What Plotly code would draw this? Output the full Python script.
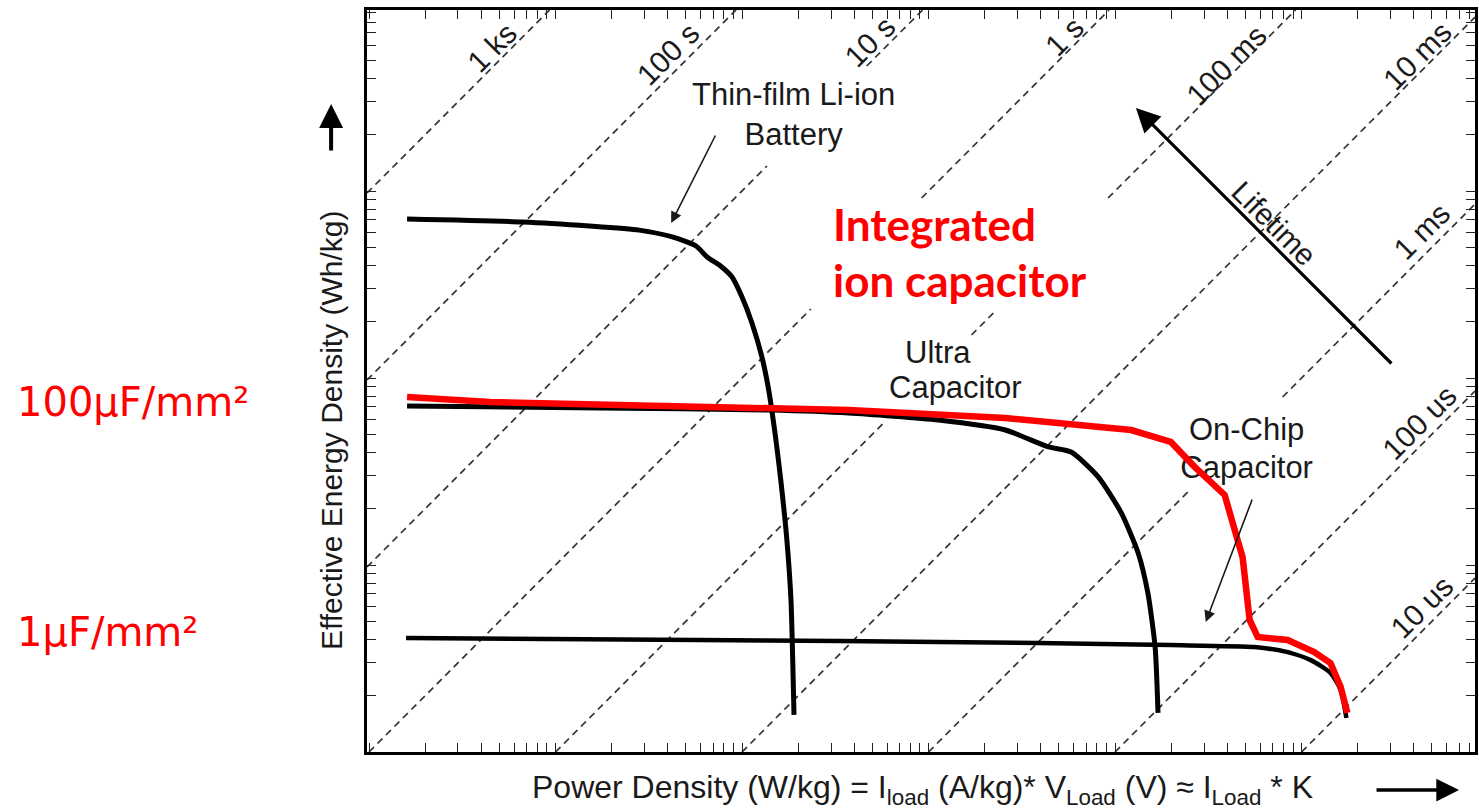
import math
import plotly.graph_objects as go

# ---- Ragone curves: power density (W/kg) vs effective energy density ----
battery_p = [1.60, 6.66, 15.2, 28.1, 42.3, 56.7, 65.0, 77.0, 88.4, 100, 113, 128, 139, 152, 162, 174, 183, 187, 190]
battery_e = [708, 683, 650, 618, 568, 508, 444, 396, 347, 271, 197, 129, 86.3, 46.6, 27.5, 13.6, 6.50, 3.10, 1.58]

ultra_p = [1.60, 17.2, 139, 373, 1130, 2580, 4390, 5820, 8120, 10800, 13300, 15000, 16400, 17000]
ultra_e = [70.8, 69.2, 67.4, 65.0, 59.6, 52.7, 42.8, 40.2, 29.6, 19.0, 11.6, 7.08, 3.64, 1.62]

onchip_p = [1.58, 58.9, 330, 3870, 19900, 56000, 84200, 112000, 143000, 162000, 174000]
onchip_e = [4.07, 3.97, 3.92, 3.83, 3.73, 3.64, 3.42, 3.10, 2.65, 2.15, 1.52]

ion_p = [1.60, 4.44, 373, 2580, 12200, 19900, 26800, 38700, 43800, 48300, 52700, 58200, 84200, 117000, 143000, 162000, 176000]
ion_e = [79.1, 74.4, 67.4, 61.1, 52.7, 45.5, 33.4, 23.7, 15.4, 11.0, 5.08, 4.12, 3.97, 3.42, 2.99, 2.23, 1.62]

# constant-lifetime lines: E = P * t
life_s = [1e3, 1e2, 1e1, 1, 1e-1, 1e-2, 1e-3, 1e-4, 1e-5]
life_lbl = ["1 ks", "100 s", "10 s", "1 s", "100 ms", "10 ms", "1 ms", "100 us", "10 us"]

# ---- frame geometry ----
W, H = 1479, 809
L, R, T, B = 367, 1478, 10, 752
XR = [-0.0107, 5.930]   # log10 range of power axis
YR = [0.0, 3.968]       # log10 range of energy axis


def lx(px):
    return XR[0] + (px - L) / (R - L) * (XR[1] - XR[0])


def ly(py):
    return YR[0] + (B - py) / (B - T) * (YR[1] - YR[0])


def pxp(px):
    return (px - L) / (R - L)


def pyp(py):
    return (B - py) / (B - T)


TXT = "#1a1a1a"
SANS = "Liberation Sans, Arial, sans-serif"
RED = "#ff0000"

# text blocks that interrupt the lifetime lines (pixel boxes -> log space)
gap_boxes = [
    (685, 905, 66, 166),     # thin-film label
    (812, 1115, 198, 312),   # integrated ion capacitor
    (880, 1030, 335, 423),   # ultra capacitor label
    (1180, 1320, 397, 490),  # on-chip label
]

fig = go.Figure()

for t in life_s:
    c = math.log10(t)
    u0 = max(XR[0], YR[0] - c)
    u1 = min(XR[1], YR[1] - c)
    if u1 <= u0:
        continue
    cuts = []
    for (bx0, bx1, by0, by1) in gap_boxes:
        a = max(lx(bx0), ly(by1) - c)
        b = min(lx(bx1), ly(by0) - c)
        if b > a:
            cuts.append((a, b))
    cuts.sort()
    segs, s = [], u0
    for a, b in cuts:
        if a > s:
            segs.append((s, min(a, u1)))
        s = max(s, b)
    if s < u1:
        segs.append((s, u1))
    xs, ys = [], []
    for a, b in segs:
        xs += [10 ** a, 10 ** b, None]
        ys += [10 ** (a + c), 10 ** (b + c), None]
    fig.add_trace(go.Scatter(x=xs, y=ys, mode="lines", hoverinfo="skip",
                             line=dict(color="#333333", width=1.7, dash="7px,5px")))

fig.add_trace(go.Scatter(x=battery_p, y=battery_e, mode="lines",
                         line=dict(color="black", width=5, shape="spline", smoothing=0.6)))
fig.add_trace(go.Scatter(x=ultra_p, y=ultra_e, mode="lines",
                         line=dict(color="black", width=5, shape="spline", smoothing=0.6)))
fig.add_trace(go.Scatter(x=onchip_p, y=onchip_e, mode="lines",
                         line=dict(color="black", width=4.5, shape="spline", smoothing=0.6)))

# on-chip label sits under the red curve
fig.add_trace(go.Scatter(x=[10 ** lx(1249), 10 ** lx(1249)], y=[10 ** ly(432), 10 ** ly(470)],
                         mode="text", text=["On-Chip", "Capacitor"],
                         textfont=dict(family=SANS, size=31, color=TXT), hoverinfo="skip"))

fig.add_trace(go.Scatter(x=ion_p, y=ion_e, mode="lines",
                         line=dict(color=RED, width=6.5)))

ann = []

# lifetime labels (centre positions in px)
life_lbl_pos = [(492, 47), (668, 54), (871, 41), (1066, 36), (1228, 65), (1420, 55),
                (1424, 231), (1422, 422), (1424, 607)]
for lbl, (px, py) in zip(life_lbl, life_lbl_pos):
    ann.append(dict(x=lx(px), y=ly(py), xref="x", yref="y", text=lbl, showarrow=False,
                    xanchor="center", yanchor="middle",
                    textangle=-45, font=dict(family=SANS, size=30, color=TXT)))

# device labels
ann.append(dict(x=lx(795), y=ly(114), xref="x", yref="y", text="Thin-film Li-ion<br>Battery",
                xanchor="center", yanchor="middle",
                showarrow=False, align="center", font=dict(family=SANS, size=31, color=TXT)))
ann.append(dict(x=lx(940), y=ly(352), xref="x", yref="y", text="Ultra", showarrow=False,
                xanchor="center", yanchor="middle", font=dict(family=SANS, size=31, color=TXT)))
ann.append(dict(x=lx(957), y=ly(387), xref="x", yref="y", text="Capacitor", showarrow=False,
                xanchor="center", yanchor="middle", font=dict(family=SANS, size=31, color=TXT)))
ann.append(dict(x=lx(1277), y=ly(223), xref="x", yref="y", text="Lifetime", showarrow=False,
                xanchor="center", yanchor="middle",
                textangle=45, font=dict(family=SANS, size=30, color=TXT)))

# pointer arrows
ann.append(dict(x=lx(672), y=ly(223), xref="x", yref="y", ax=717 - 672, ay=134 - 223,
                text="", showarrow=True, arrowhead=2, arrowsize=1.4, arrowwidth=1.6, arrowcolor=TXT))
ann.append(dict(x=lx(1208), y=ly(622), xref="x", yref="y", ax=1255 - 1208, ay=498 - 622,
                text="", showarrow=True, arrowhead=2, arrowsize=1.4, arrowwidth=1.6, arrowcolor=TXT))
ann.append(dict(x=lx(1138), y=ly(108), xref="x", yref="y", ax=1395 - 1138, ay=365 - 108,
                text="", showarrow=True, arrowhead=2, arrowsize=1.5, arrowwidth=3.2, arrowcolor="black"))

# integrated ion capacitor
for txt, py in [("<b>Integrated</b>", 224), ("<b>ion capacitor</b>", 280)]:
    ann.append(dict(x=pxp(832), y=pyp(py), xref="paper", yref="paper", xanchor="left", yanchor="middle",
                    text=txt, showarrow=False,
                    font=dict(family="Lato, Open Sans, sans-serif", size=44, color=RED)))

# capacitance density markers
for txt, py in [("100μF/mm²", 402), ("1μF/mm²", 632)]:
    ann.append(dict(x=pxp(14), y=pyp(py), xref="paper", yref="paper", xanchor="left", yanchor="middle",
                    text=txt, showarrow=False,
                    font=dict(family="DejaVu Sans, sans-serif", size=40, color=RED)))

# axis titles with direction arrows
ann.append(dict(x=pxp(924), y=pyp(790), xref="paper", yref="paper", xanchor="center", yanchor="middle",
                text="Power Density (W/kg) = I<sub>load</sub> (A/kg)* V<sub>Load</sub> (V) ≈ I<sub>Load</sub> * K",
                showarrow=False, font=dict(family=SANS, size=32, color=TXT)))
ann.append(dict(x=pxp(1462), y=pyp(790), xref="paper", yref="paper", ax=-84, ay=0,
                text="", showarrow=True, arrowhead=2, arrowsize=1.3, arrowwidth=3.5, arrowcolor="black"))
ann.append(dict(x=pxp(331), y=pyp(430), xref="paper", yref="paper", textangle=-90,
                xanchor="center", yanchor="middle",
                text="Effective Energy Density (Wh/kg)", showarrow=False,
                font=dict(family=SANS, size=30, color=TXT)))
ann.append(dict(x=pxp(331), y=pyp(104), xref="paper", yref="paper", ax=0, ay=48,
                text="", showarrow=True, arrowhead=2, arrowsize=1.2, arrowwidth=4, arrowcolor="black"))

axis_common = dict(
    type="log", showgrid=False, zeroline=False, showticklabels=False,
    showline=True, linecolor="black", linewidth=3, mirror="ticks",
    ticks="inside", ticklen=9, tickwidth=1.4, tickcolor="#222", dtick=1,
    minor=dict(ticks="inside", ticklen=9, tickwidth=1.4, tickcolor="#222", dtick="D1", showgrid=False),
)

fig.update_layout(
    width=W, height=H,
    margin=dict(l=L, r=W - R, t=T, b=H - B),
    paper_bgcolor="white", plot_bgcolor="white",
    showlegend=False,
    xaxis=dict(range=XR, **axis_common),
    yaxis=dict(range=YR, **axis_common),
    annotations=ann,
)

fig.write_html("out.html")
